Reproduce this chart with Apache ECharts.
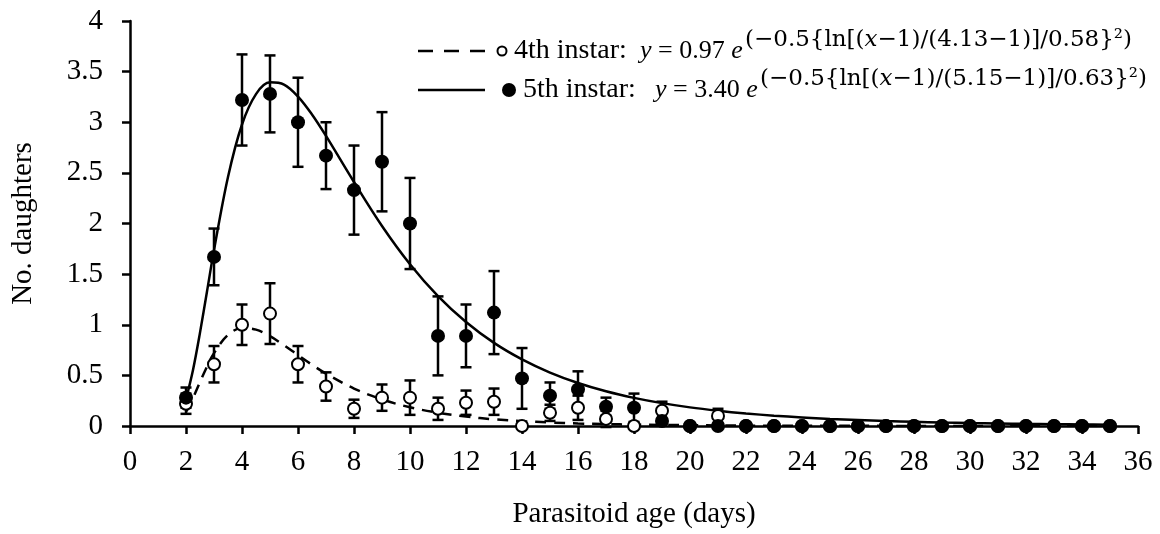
<!DOCTYPE html>
<html>
<head>
<meta charset="utf-8">
<script src="https://cdn.jsdelivr.net/npm/echarts@6/dist/echarts.min.js"></script>
<style>
html,body{margin:0;padding:0;background:#fff;}
#chart{width:1160px;height:534px;}
</style>
</head>
<body>
<div id="chart"></div>
<script>
// ---- data ----
const days = [2,3,4,5,6,7,8,9,10,11,12,13,14,15,16,17,18,19,20,21,22,23,24,25,26,27,28,29,30,31,32,33,34,35];
const fifthMean = [0.28,1.67,3.22,3.28,3.00,2.67,2.33,2.61,2.00,0.89,0.89,1.12,0.47,0.30,0.36,0.19,0.18,0.05,0,0,0,0,0,0,0,0,0,0,0,0,0,0,0,0];
const fifthErr  = [0.10,0.28,0.45,0.38,0.44,0.33,0.44,0.49,0.45,0.39,0.31,0.41,0.30,0.13,0.18,0.09,0.14,0,0,0,0,0,0,0,0,0,0,0,0,0,0,0,0,0];
const fourthMean = [0.22,0.61,1.00,1.11,0.61,0.39,0.17,0.28,0.28,0.17,0.23,0.24,0,0.13,0.18,0.07,0,0.15,0,0.10,0,0,0,0,0,0,0,0,0,0,0,0,0,0];
const fourthErr  = [0.10,0.18,0.20,0.30,0.18,0.14,0.09,0.13,0.17,0.11,0.12,0.13,0,0.08,0.12,0.08,0,0.09,0,0.07,0,0,0,0,0,0,0,0,0,0,0,0,0,0];
// fitted curves
const fitX = [2,2.25,2.5,2.75,3,3.5,4,4.5,5,5.5,6,6.5,7,8,9,10,11,12,13,14,15,16,17,18,19,20,21,22,23,24,25,26,27,28,29,30,31,32,33,34,35];
const fit5 = [0.265,0.554,0.922,1.329,1.737,2.460,2.978,3.278,3.394,3.372,3.254,3.077,2.865,2.410,1.976,1.598,1.283,1.027,0.821,0.658,0.528,0.425,0.343,0.278,0.226,0.184,0.151,0.124,0.102,0.085,0.070,0.059,0.049,0.041,0.034,0.029,0.025,0.021,0.018,0.015,0.013];
const fit4 = [0.140,0.277,0.434,0.587,0.720,0.900,0.967,0.952,0.887,0.797,0.700,0.605,0.517,0.370,0.262,0.185,0.131,0.093,0.066,0.048,0.035,0.025,0.019,0.014,0.010,0.008,0.006,0.004,0.003,0.003,0.002,0.002,0.001,0.001,0.001,0.001,0.001,0.001,0.001,0.001,0.001];
const xAxisTitle = 'Parasitoid age (days)';
const yAxisTitle = 'No. daughters';
const legend4Label = '4th instar:';
const legend5Label = '5th instar:';
const eq4Main = '{it|y} = 0.97 {it|e}';
const eq4Sup = '(−0.5{ln[({it|x}−1)/(4.13−1)]/0.58}²)';
const eq5Main = '{it|y} = 3.40 {it|e}';
const eq5Sup = '(−0.5{ln[({it|x}−1)/(5.15−1)]/0.63}²)';

const FONT = '"Liberation Serif","Times New Roman",serif';
const MATH = '"DejaVu Serif",serif';

const chart = echarts.init(document.getElementById('chart'), null, {renderer:'canvas'});

function errItem(params, api){
  const x = api.value(0), m = api.value(1), e = api.value(2);
  if (!e) return null;
  const hi = api.coord([x, m + e]);
  const lo = api.coord([x, m - e]);
  const w = 5.5;
  const st = {stroke:'#000', lineWidth:2.5};
  return {type:'group', children:[
    {type:'line', shape:{x1:hi[0],y1:hi[1],x2:lo[0],y2:lo[1]}, style:st},
    {type:'line', shape:{x1:hi[0]-w,y1:hi[1],x2:hi[0]+w,y2:hi[1]}, style:st},
    {type:'line', shape:{x1:lo[0]-w,y1:lo[1],x2:lo[0]+w,y2:lo[1]}, style:st}
  ]};
}

const L1 = 51, L2 = 90;
const richMain = {it:{fontStyle:'italic', fontFamily:FONT, fontSize:26, fill:'#000'}};
const richSup = {it:{fontStyle:'italic', fontFamily:MATH, fontSize:23, fill:'#000'}};

const option = {
  animation:false,
  backgroundColor:'#fff',
  grid:{left:130, right:22, top:21, bottom:107, containLabel:false},
  xAxis:{
    type:'value', min:0, max:36, interval:2,
    name:xAxisTitle, nameLocation:'middle', nameGap:74,
    nameTextStyle:{fontFamily:FONT, fontSize:29, color:'#000'},
    axisLine:{onZero:false, lineStyle:{color:'#000', width:2.5}},
    axisTick:{show:true, inside:false, length:8, lineStyle:{color:'#000', width:2.5}},
    axisLabel:{fontFamily:FONT, fontSize:29, color:'#000', margin:22},
    splitLine:{show:false}
  },
  yAxis:{
    type:'value', min:0, max:4, interval:0.5,
    name:yAxisTitle, nameLocation:'middle', nameGap:92, nameRotate:90,
    nameTextStyle:{fontFamily:FONT, fontSize:29, color:'#000'},
    axisLine:{show:true, lineStyle:{color:'#000', width:2.5}},
    axisTick:{show:true, inside:false, length:8, lineStyle:{color:'#000', width:2.5}},
    axisLabel:{fontFamily:FONT, fontSize:29, color:'#000', margin:27},
    splitLine:{show:false}
  },
  series:[
    {type:'custom', name:'err5', renderItem:errItem, z:2,
     encode:{x:0, y:1}, data:days.map((d,i)=>[d, fifthMean[i], fifthErr[i]])},
    {type:'custom', name:'err4', renderItem:errItem, z:2,
     encode:{x:0, y:1}, data:days.map((d,i)=>[d, fourthMean[i], fourthErr[i]])},
    {type:'line', name:'fit5', data:fitX.map((x,i)=>[x, fit5[i]]), smooth:0.35, showSymbol:false, z:3,
     lineStyle:{color:'#000', width:2.5, type:'solid'}},
    {type:'line', name:'fit4', data:fitX.map((x,i)=>[x, fit4[i]]), smooth:0.35, showSymbol:false, z:3,
     lineStyle:{color:'#000', width:2.5, type:[11,8]}},
    {type:'scatter', name:'4th instar', data:days.map((d,i)=>[d, fourthMean[i]]), symbol:'circle', symbolSize:12, z:4,
     itemStyle:{color:'#fff', borderColor:'#000', borderWidth:2, opacity:1}},
    {type:'scatter', name:'5th instar', data:days.map((d,i)=>[d, fifthMean[i]]), symbol:'circle', symbolSize:14, z:5,
     itemStyle:{color:'#000', opacity:1}}
  ],
  graphic:[
    // row 1
    {type:'line', shape:{x1:418,y1:L1,x2:485,y2:L1}, style:{stroke:'#000', lineWidth:2.5, lineDash:[15,11]}},
    {type:'circle', shape:{cx:502, cy:L1, r:4.5}, style:{fill:'#fff', stroke:'#000', lineWidth:2}},
    {type:'text', x:514, y:L1, style:{text:legend4Label, font:'28px '+FONT, fill:'#000', verticalAlign:'middle'}},
    {type:'text', x:640, y:L1, style:{text:eq4Main, font:'26px '+FONT, fill:'#000', verticalAlign:'middle', rich:richMain}},
    {type:'text', x:745, y:L1-11, style:{text:eq4Sup, font:'23px '+MATH, fill:'#000', verticalAlign:'middle', rich:richSup}},
    // row 2
    {type:'line', shape:{x1:418,y1:L2,x2:485,y2:L2}, style:{stroke:'#000', lineWidth:2.5}},
    {type:'circle', shape:{cx:509, cy:L2, r:7}, style:{fill:'#000'}},
    {type:'text', x:523, y:L2, style:{text:legend5Label, font:'28px '+FONT, fill:'#000', verticalAlign:'middle'}},
    {type:'text', x:655, y:L2, style:{text:eq5Main, font:'26px '+FONT, fill:'#000', verticalAlign:'middle', rich:richMain}},
    {type:'text', x:760, y:L2-11, style:{text:eq5Sup, font:'23px '+MATH, fill:'#000', verticalAlign:'middle', rich:richSup}}
  ]
};
chart.setOption(option);
</script>
</body>
</html>
